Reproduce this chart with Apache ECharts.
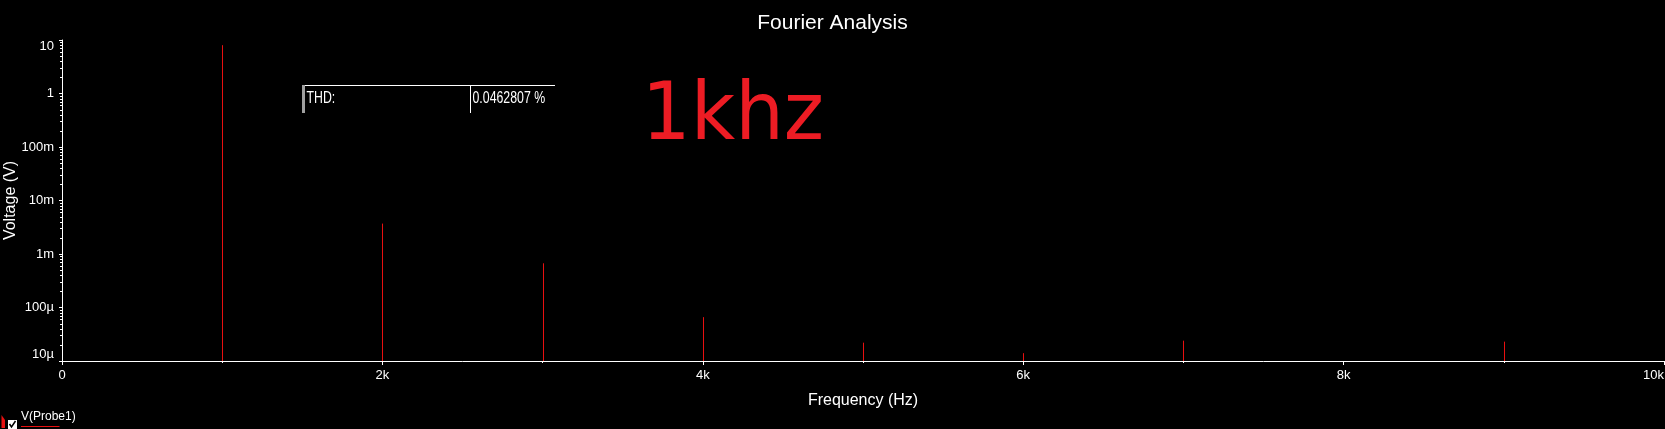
<!DOCTYPE html>
<html><head><meta charset="utf-8">
<script src="https://cdn.jsdelivr.net/npm/echarts@6/dist/echarts.min.js"></script>
<style>html,body{margin:0;padding:0;background:#000}#c{width:1665px;height:429px}</style>
</head><body><div id="c"></div>
<script>
// Harmonic frequencies (Hz) and their amplitudes (V)
const frequencies = [1000, 2000, 3000, 4000, 5000, 6000, 7000, 9000];
const voltages = [8.0, 3.7e-3, 6.7e-4, 6.6e-5, 2.2e-5, 1.4e-5, 2.4e-5, 2.3e-5];
// Axis tick labels
const yTickLabels = ['10µ', '100µ', '1m', '10m', '100m', '1', '10']; // exponents -5..1
const xTickLabels = ['0', '2k', '4k', '6k', '8k', '10k'];
// Log-axis minor tick multipliers within each decade
const decades = [1e-5, 1e-4, 1e-3, 1e-2, 1e-1, 1];
const minorMultipliers = [2, 3, 4, 5, 6, 7, 8, 9];
const thdLabel = 'THD:';
const thdValue = '0.0462807 %';
const seriesName = 'V(Probe1)';

const minorTickData = [];
decades.forEach(d => minorMultipliers.forEach(m => minorTickData.push([0, d * m])));

const FONT = 'Liberation Sans, Arial, sans-serif';
const chart = echarts.init(document.getElementById('c'), null, {renderer: 'canvas'});
chart.setOption({
  backgroundColor: '#000',
  animation: false,
  title: {
    text: 'Fourier Analysis', left: 'center', top: 8,
    textStyle: {color: '#fff', fontSize: 21, fontWeight: 'normal', fontFamily: FONT}
  },
  grid: {left: 62, right: 1, top: 40, bottom: 68, containLabel: false, outerBoundsMode: 'none'},
  xAxis: {
    type: 'value', min: 0, max: 10000, interval: 2000,
    name: 'Frequency (Hz)', nameLocation: 'middle', nameGap: 32, nameMoveOverlap: false,
    nameTextStyle: {color: '#fff', fontSize: 16, fontFamily: FONT},
    axisLine: {show: true, onZero: false, lineStyle: {color: '#fff', width: 1}},
    axisTick: {show: true, length: 4, lineStyle: {color: '#fff'}},
    minorTick: {show: true, splitNumber: 2, length: 2, lineStyle: {color: '#fff'}},
    splitLine: {show: false},
    axisLabel: {
      color: '#fff', fontSize: 13, fontFamily: FONT, margin: 8,
      alignMaxLabel: 'right',
      formatter: v => xTickLabels[Math.round(v / 2000)]
    }
  },
  yAxis: {
    type: 'log', logBase: 10, min: 1e-5, max: 10, splitNumber: 6,
    name: 'Voltage (V)', nameLocation: 'middle', nameGap: 43, nameRotate: 90, nameMoveOverlap: false,
    nameTextStyle: {color: '#fff', fontSize: 16, fontFamily: FONT},
    axisLine: {show: true, lineStyle: {color: '#fff', width: 1}},
    axisTick: {show: true, length: 3, lineStyle: {color: '#fff'}},
    splitLine: {show: false},
    axisLabel: {
      color: '#fff', fontSize: 13, fontFamily: FONT, margin: 8,
      verticalAlignMaxLabel: 'top', verticalAlignMinLabel: 'bottom',
      formatter: v => yTickLabels[Math.round(Math.log10(v)) + 5]
    }
  },
  series: [
    {
      name: seriesName, type: 'custom', coordinateSystem: 'cartesian2d',
      data: frequencies.map((f, i) => [f, voltages[i]]),
      renderItem: (params, api) => {
        const top = api.coord([api.value(0), api.value(1)]);
        const cs = params.coordSys;
        const x = Math.round(top[0]) + 0.5;
        return {type: 'line', shape: {x1: x, y1: top[1], x2: x, y2: cs.y + cs.height},
          style: {stroke: '#e81010', lineWidth: 1}};
      }
    },
    {
      type: 'custom', coordinateSystem: 'cartesian2d', clip: false, silent: true,
      data: minorTickData,
      renderItem: (params, api) => {
        const p = api.coord([api.value(0), api.value(1)]);
        const y = Math.round(p[1]) + 0.5;
        return {type: 'line', shape: {x1: p[0] - 2, y1: y, x2: p[0], y2: y},
          style: {stroke: '#fff', lineWidth: 1}};
      }
    }
  ],
  graphic: [
    {type: 'text', x: 733, y: 118, scaleX: 0.96,
      style: {text: '1khz', fill: '#ed1c24', fontSize: 80, fontFamily: 'DejaVu Sans', align: 'center', verticalAlign: 'middle'}},
    {type: 'rect', shape: {x: 302, y: 85, width: 3, height: 28}, style: {fill: '#a0a0a0'}},
    {type: 'line', shape: {x1: 305, y1: 85.5, x2: 555, y2: 85.5}, style: {stroke: '#fff', lineWidth: 1}},
    {type: 'line', shape: {x1: 470.5, y1: 85, x2: 470.5, y2: 113}, style: {stroke: '#fff', lineWidth: 1}},
    {type: 'text', x: 306.5, y: 99, scaleX: 0.77,
      style: {text: thdLabel, fill: '#fff', fontSize: 16, fontFamily: FONT, verticalAlign: 'middle'}},
    {type: 'text', x: 472.5, y: 99, scaleX: 0.77,
      style: {text: thdValue, fill: '#fff', fontSize: 16, fontFamily: FONT, verticalAlign: 'middle'}},
    {type: 'polygon', shape: {points: [[1.5, 415], [5, 420], [5, 428], [1.5, 428]]}, style: {fill: '#e81010'}},
    {type: 'rect', shape: {x: 8, y: 420, width: 9, height: 9}, style: {fill: '#fff'}},
    {type: 'polyline', shape: {points: [[9.5, 424], [11.5, 427], [15.5, 421]]}, style: {stroke: '#000', lineWidth: 1.5, fill: null}},
    {type: 'text', x: 21, y: 417, style: {text: seriesName, fill: '#fff', fontSize: 12, fontFamily: FONT, verticalAlign: 'middle'}},
    {type: 'line', shape: {x1: 21, y1: 426.5, x2: 59.5, y2: 426.5}, style: {stroke: '#e81010', lineWidth: 1}}
  ]
});
</script></body></html>
